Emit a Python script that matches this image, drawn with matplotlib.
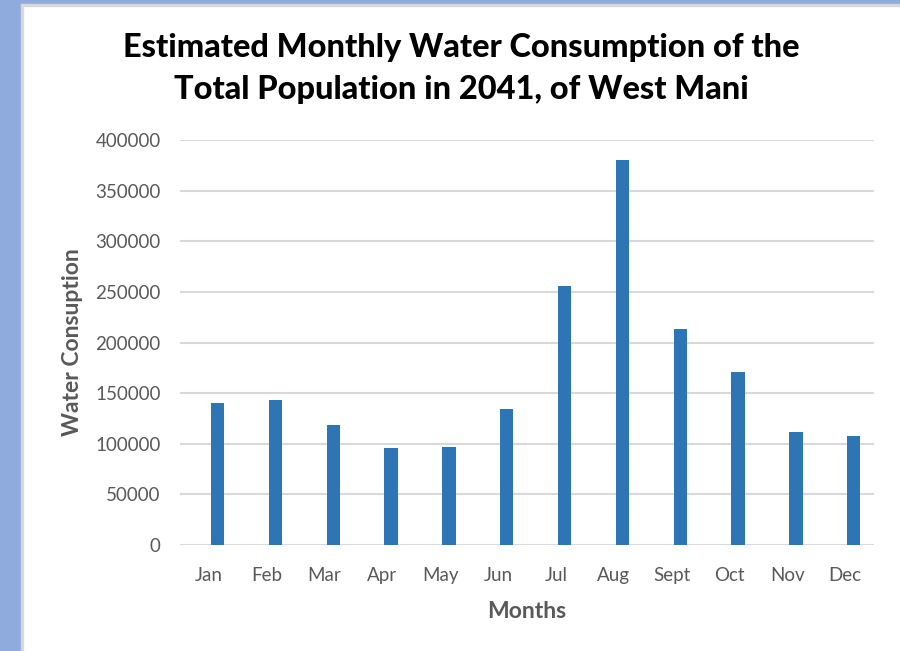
import matplotlib.pyplot as plt
from matplotlib.patches import Rectangle
import numpy as np

months = ['Jan', 'Feb', 'Mar', 'Apr', 'May', 'Jun', 'Jul', 'Aug', 'Sept', 'Oct', 'Nov', 'Dec']
consumption = [140000, 143200, 118200, 95800, 97100, 134000,
               255800, 380300, 213000, 170500, 111300, 107700]
yticks = [0, 50000, 100000, 150000, 200000, 250000, 300000, 350000, 400000]

plt.rcParams['font.family'] = ['Lato', 'DejaVu Sans']

fig = plt.figure(figsize=(9, 6.51), dpi=100)
fig.patch.set_facecolor('white')

# blue frame round the chart area
fig.patches.append(Rectangle((0, 0), 21/900, 1, transform=fig.transFigure,
                             color='#8faadc', zorder=0))
fig.patches.append(Rectangle((0, 1-4/651), 1, 4/651, transform=fig.transFigure,
                             color='#8faadc', zorder=0))
fig.patches.append(Rectangle((21/900, 0), 1.5/900, 1-4/651, transform=fig.transFigure,
                             color='#d9d9d9', zorder=0))
fig.patches.append(Rectangle((21/900, 1-6/651), 1, 2/651, transform=fig.transFigure,
                             color='#d9d9d9', zorder=0))

ax = fig.add_axes([180/900, 1-545/651, 694/900, 405/651])
x = np.arange(len(months))
ax.bar(x + 0.15, consumption, width=0.23, color='#2e75b6', zorder=3)

ax.set_xlim(-0.5, len(months) - 0.5)
ax.set_ylim(0, 400000)
ax.set_yticks(yticks)
ax.set_xticks(x)
ax.set_xticklabels(months)
ax.grid(axis='y', color='#d9d9d9', linewidth=1.5, zorder=0)
for s in ax.spines.values():
    s.set_visible(False)
ax.tick_params(axis='both', length=0, labelcolor='#595959', labelsize=13.5)
ax.tick_params(axis='y', pad=14)
ax.tick_params(axis='x', pad=16)

ax.set_xlabel('Months', fontsize=16.5, fontweight='bold', color='#595959', labelpad=12)
ax.set_ylabel('Water Consuption', fontsize=16.5, fontweight='bold', color='#595959', labelpad=9)

fig.text(461/900, 1-68.5/651, 'Estimated Monthly Water Consumption of the\nTotal Population in 2041, of West Mani',
         ha='center', va='center', fontsize=23.4, fontweight='black', color='black', linespacing=1.52)

fig.savefig('out.png', dpi=100)
